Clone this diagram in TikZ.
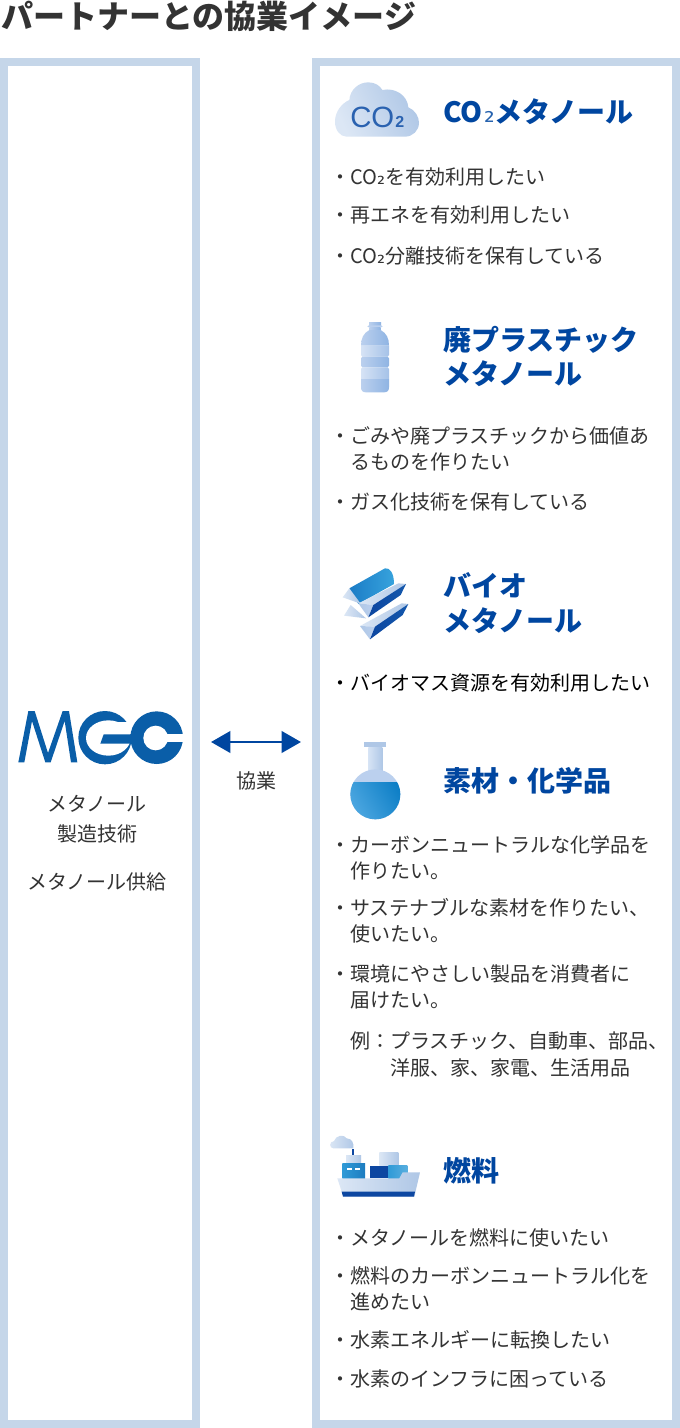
\documentclass[tikz,border=0pt]{standalone}
\usepackage{fontspec}
\setmainfont{Noto Sans CJK JP}
\newfontfamily\subfam{DejaVu Sans}
\newfontfamily\cofam{Liberation Sans}
\newcommand{\subtwo}{{\subfam ₂}}
\usetikzlibrary{arrows.meta}
\definecolor{frame}{HTML}{C5D6E9}
\definecolor{ink}{HTML}{333333}
\definecolor{head}{HTML}{0046A0}
\definecolor{logo}{HTML}{0A5EA8}
\definecolor{lite}{HTML}{DCE7F5}
\definecolor{mid}{HTML}{AFC7E6}
\definecolor{deep}{HTML}{0D47A1}
\definecolor{sky}{HTML}{2F9AD7}
\definecolor{cotext}{HTML}{2A62B0}
\definecolor{bandL}{HTML}{D6E3F5}
\definecolor{bandR}{HTML}{A5C2E8}
\definecolor{darkL}{HTML}{BBD0EE}
\definecolor{darkR}{HTML}{8FB4E3}
\definecolor{liqL}{HTML}{4BA6E0}
\definecolor{liqR}{HTML}{0B7DC5}
\definecolor{logL}{HTML}{1B7CC6}
\definecolor{logR}{HTML}{37A3DD}
\tikzset{
  panel/.style={draw=frame,line width=6pt,fill=white,inner sep=0,outer sep=0},
  body/.style={anchor=base west,inner sep=0,text=ink,font=\fontsize{15}{18}\selectfont},
  bodyc/.style={anchor=base,inner sep=0,text=ink,font=\fontsize{15}{18}\selectfont},
  heading/.style={anchor=base west,inner sep=0,text=head,font=\fontsize{21}{25}\selectfont\bfseries},
  page/.style={anchor=base west,inner sep=0,text=ink,font=\fontsize{24}{28}\selectfont\bfseries},
  zoomA/.style={shift={(#1)},x=0.25pt,y=-0.25pt}
}
\begin{document}
\begin{tikzpicture}[x=0.75pt,y=-0.75pt]
\useasboundingbox (0,0) rectangle (680,1428);
\fill[white] (0,0) rectangle (680,1428);
\node[page] (pagetitle) at (1,28) {パートナーとの協業イメージ};
\node[panel,minimum width=144pt,minimum height=1021.5pt] (leftbox) at (100,743) {};
\node[panel,minimum width=270pt,minimum height=1021.5pt] (rightbox) at (496,743) {};

% MGC logo
\begin{scope}[zoomA={14,705}]
\fill[logo] (13,172)--(43,18)--(62,18)--(102,144)--(146,18)--(165,18)--(190,172)--(171,172)--(152,48)--(110,172)--(94,172)--(54,48)--(31,172)--cycle;
\end{scope}
\begin{scope}[zoomA={10,702}]
\fill[logo] (285,107) ellipse (80 and 80);
\fill[white] (295,108) ellipse (67 and 53);
\fill[white] (295,60) rectangle (372,97);
\fill[logo] (281,97)--(372,97)--(372,125)--(271,125)--cycle;
\fill[logo] (440,107) circle (79);
\fill[white] (437,108) circle (37);
\fill[white] (440,97) rectangle (525,120);
\end{scope}
\node[bodyc] (m1) at (97,811) {メタノール};
\node[bodyc] (m2) at (97,841) {製造技術};
\node[bodyc] (m3) at (97,889) {メタノール供給};

\coordinate (arrowL) at (211,742);
\coordinate (arrowR) at (301,742);
\draw[head,line width=2.2pt,{Triangle[length=14.5pt,width=16pt]}-{Triangle[length=14.5pt,width=16pt]}] (arrowL) -- (arrowR);
\node[bodyc] (kyo) at (256,788) {協業};

% cloud
\begin{scope}[zoomA={320,70}]
\shade[left color=lite,right color=mid,shading angle=115]
 (80,200) .. controls (60,200) and (45,180) .. (45,155) .. controls (45,125) and (65,100) .. (88,90) .. controls (90,60) and (115,37) .. (145,37) .. controls (165,37) and (180,47) .. (187,60) .. controls (225,52) and (262,75) .. (265,112) .. controls (285,120) and (297,140) .. (297,158) .. controls (297,182) and (278,200) .. (255,200) -- cycle;
\end{scope}
\node[anchor=base west,inner sep=0,text=cotext,font=\cofam\fontsize{22}{26}\selectfont] (co) at (350,127) {CO};
\node[anchor=base west,inner sep=0,text=cotext,font=\cofam\fontsize{12}{14}\selectfont\bfseries] (co2) at (395,127) {2};

\node[heading] (h1) at (443,122) {CO\kern1pt{\mdseries\color{head!85!white}\fontsize{20}{24}\selectfont\subtwo}メタノール};
\node[body] (a1) at (330,184) {・CO\subtwo を有効利用したい};
\node[body] (a2) at (330,222) {・再エネを有効利用したい};
\node[body] (a3) at (330,263) {・CO\subtwo 分離技術を保有している};

% bottle
\begin{scope}[zoomA={330,310}]
\shade[left color=darkL,right color=darkR] (117,36) rectangle (153,46);
\fill[darkL,rounded corners=1pt] (112,46) rectangle (158,52);
\shade[left color=darkL,right color=darkR] (118,52) rectangle (152,62);
\shade[left color=darkL,right color=darkR]
 (118,60) .. controls (100,70) and (93,85) .. (93,107) -- (177,107) .. controls (177,85) and (170,70) .. (152,60) -- cycle;
\shade[left color=bandL,right color=bandR] (93,107) -- (177,107) -- (177,135) -- (173,140) -- (97,140) -- (93,135) -- cycle;
\shade[left color=darkL,right color=darkR] (97,140) -- (173,140) -- (177,145) -- (177,167) -- (173,172) -- (97,172) -- (93,167) -- (93,145) -- cycle;
\shade[left color=bandL,right color=bandR] (97,172) -- (173,172) -- (177,177) -- (177,207) -- (93,207) -- (93,177) -- cycle;
\shade[left color=darkL,right color=darkR] (93,207) -- (177,207) -- (177,232) .. controls (177,242) and (172,247) .. (162,247) -- (108,247) .. controls (98,247) and (93,242) .. (93,232) -- cycle;
\end{scope}
\node[heading] (h2a) at (443,350) {廃プラスチック};
\node[heading] (h2b) at (443,384) {メタノール};
\node[body] (b1) at (330,443) {・ごみや廃プラスチックから価値あ};
\node[body] (b2) at (350,469) {るものを作りたい};
\node[body] (b3) at (330,509) {・ガス化技術を保有している};

% logs
\begin{scope}[zoomA={330,560}]
\shade[left color=logL,right color=logR]
 (58,85) -- (165,25) .. controls (180,22) and (192,40) .. (192,72) -- (85,132) -- cycle;
\shade[left color=lite,right color=mid] (58,85) -- (38,112) -- (92,131) -- cycle;
\shade[left color=lite,right color=mid] (62,135) -- (42,167) -- (108,175) -- cycle;
\shade[left color=lite,right color=mid] (85,130) -- (205,70) -- (228,72) -- (130,135) -- cycle;
\shade[left color=mid,right color=darkL] (85,130) -- (130,135) -- (115,172) -- cycle;
\shade[left color=deep,right color=deep!80!sky] (130,135) -- (228,72) -- (212,105) -- (115,172) -- cycle;
\shade[left color=lite,right color=mid] (90,198) -- (215,130) -- (235,132) -- (135,200) -- cycle;
\shade[left color=mid,right color=darkL] (90,198) -- (135,200) -- (120,238) -- cycle;
\shade[left color=deep,right color=deep!80!sky] (135,200) -- (235,132) -- (218,165) -- (120,238) -- cycle;
\end{scope}
\node[heading] (h3a) at (443,596) {バイオ};
\node[heading] (h3b) at (443,631) {メタノール};
\node[body,text=black] (c1) at (330,690) {・バイオマス資源を有効利用したい};

% flask
\begin{scope}[zoomA={330,735}]
\fill[mid] (103,21) rectangle (168,37);
\shade[left color=bandL,right color=mid] (115,37) rectangle (157,110);
\fill[darkL] (136,178) circle (75);
\begin{scope}
\clip (50,142) rectangle (220,260);
\shade[left color=liqL,right color=liqR,shading angle=120] (136,178) circle (75);
\end{scope}
\end{scope}
\node[heading] (h4) at (443,791) {素材・化学品};
\node[body] (d1) at (330,852) {・カーボンニュートラルな化学品を};
\node[body] (d2) at (350,878) {作りたい。};
\node[body] (d3) at (330,915) {・サステナブルな素材を作りたい、};
\node[body] (d4) at (350,941) {使いたい。};
\node[body] (d5) at (330,981) {・環境にやさしい製品を消費者に};
\node[body] (d6) at (350,1007) {届けたい。};
\node[body] (d7) at (350,1048) {例：プラスチック、自動車、部品、};
\node[body] (d8) at (390,1075) {洋服、家、家電、生活用品};

% ship
\begin{scope}[zoomA={320,1125}]
\shade[left color=lite,right color=mid]
 (40,70) .. controls (28,70) and (26,50) .. (42,48) .. controls (48,30) and (72,27) .. (80,40) .. controls (95,40) and (103,55) .. (100,70) -- cycle;
\fill[deep] (97,73) rectangle (103,92);
\shade[left color=lite,right color=mid] (78,90) rectangle (123,115);
\shade[left color=sky,right color=logo!50!sky] (67,115) rectangle (135,160);
\fill[white] (80,128) rectangle (96,135);
\fill[white] (105,128) rectangle (121,135);
\shade[left color=lite,right color=mid] (178,82) rectangle (235,122);
\fill[deep] (150,122) rectangle (205,160);
\shade[left color=sky,right color=sky!80!white] (205,122) rectangle (262,160);
\shade[left color=lite,right color=mid] (52,160) -- (238,160) -- (248,142) -- (300,142) -- (283,215) -- (70,215) -- cycle;
\fill[deep] (65,200) -- (285,200) -- (282,215) -- (69,215) -- cycle;
\end{scope}
\node[heading] (h5) at (443,1181) {燃料};
\node[body] (e1) at (330,1245) {・メタノールを燃料に使いたい};
\node[body] (e2) at (330,1283) {・燃料のカーボンニュートラル化を};
\node[body] (e3) at (350,1309) {進めたい};
\node[body] (e4) at (330,1347) {・水素エネルギーに転換したい};
\node[body] (e5) at (330,1386) {・水素のインフラに困っている};
\end{tikzpicture}
\end{document}
